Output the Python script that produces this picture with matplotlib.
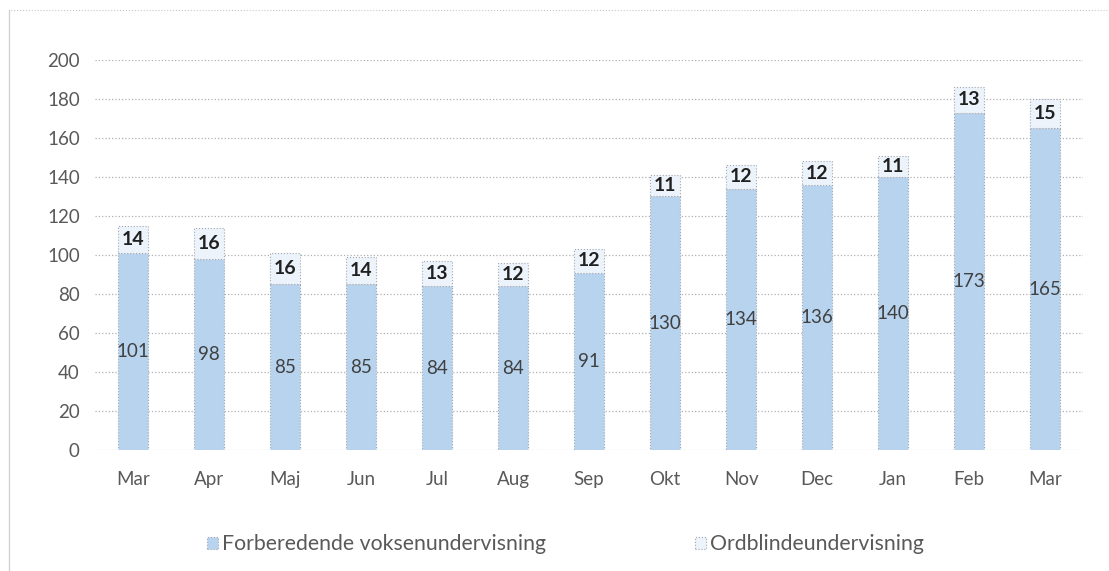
import matplotlib.pyplot as plt
import numpy as np
from matplotlib.patches import Rectangle

plt.rcParams['font.family'] = ['Lato', 'DejaVu Sans']

# data
months = ['Mar', 'Apr', 'Maj', 'Jun', 'Jul', 'Aug', 'Sep', 'Okt', 'Nov', 'Dec', 'Jan', 'Feb', 'Mar']
fvu = [101, 98, 85, 85, 84, 84, 91, 130, 134, 136, 140, 173, 165]
ordblinde = [14, 16, 16, 14, 13, 12, 12, 11, 12, 12, 11, 13, 15]

fig = plt.figure(figsize=(11.09, 5.71), dpi=100)
ax = fig.add_axes([0.0857, 0.212, 0.891, 0.683])

x = np.arange(len(months))
b1 = ax.bar(x, fvu, width=0.4, color='#b7d3ee', edgecolor='#a0a8b4',
            linewidth=0.8, linestyle=':', label='Forberedende voksenundervisning', zorder=3)
b2 = ax.bar(x, ordblinde, width=0.4, bottom=fvu, color='#edf3fb', edgecolor='#a0a8b4',
            linewidth=0.8, linestyle=':', label='Ordblindeundervisning', zorder=3)

for i in range(len(months)):
    ax.text(x[i], fvu[i] / 2, str(fvu[i]), ha='center', va='center',
            fontsize=13.5, color='#404040', zorder=4)
    ax.text(x[i], fvu[i] + ordblinde[i] / 2, str(ordblinde[i]), ha='center', va='center',
            fontsize=14, fontweight='bold', color='#202020', zorder=4)

ax.set_ylim(0, 200)
ax.set_xlim(-0.5, len(months) - 0.5)
ax.set_yticks(np.arange(0, 201, 20))
ax.set_xticks(x)
ax.set_xticklabels(months)
ax.tick_params(axis='both', length=0, labelsize=13.5, labelcolor='#595959')
ax.tick_params(axis='y', pad=11)
ax.tick_params(axis='x', pad=15)
ax.yaxis.grid(True, linestyle=':', color='#b0b0b0', linewidth=0.9, zorder=0)
for s in ax.spines.values():
    s.set_visible(False)

leg = fig.legend(handles=[b1, b2], loc='center', bbox_to_anchor=(0.510, 0.047), ncol=2,
                 frameon=False, fontsize=15.3, handlelength=0.5, handleheight=0.5,
                 handletextpad=0.2, columnspacing=7.0)
for t in leg.get_texts():
    t.set_color('#595959')

# outer chart border
fig.patches.append(Rectangle((0.008, -0.1), 1.2, 1.083, transform=fig.transFigure,
                             fill=False, edgecolor='#c8c8c8', linewidth=0.8, linestyle=':'))
fig.add_artist(plt.Line2D([0.008, 0.008], [0, 0.983], transform=fig.transFigure,
                          color='#d0d0d0', linewidth=0.9))

fig.savefig('out.png', dpi=100)
